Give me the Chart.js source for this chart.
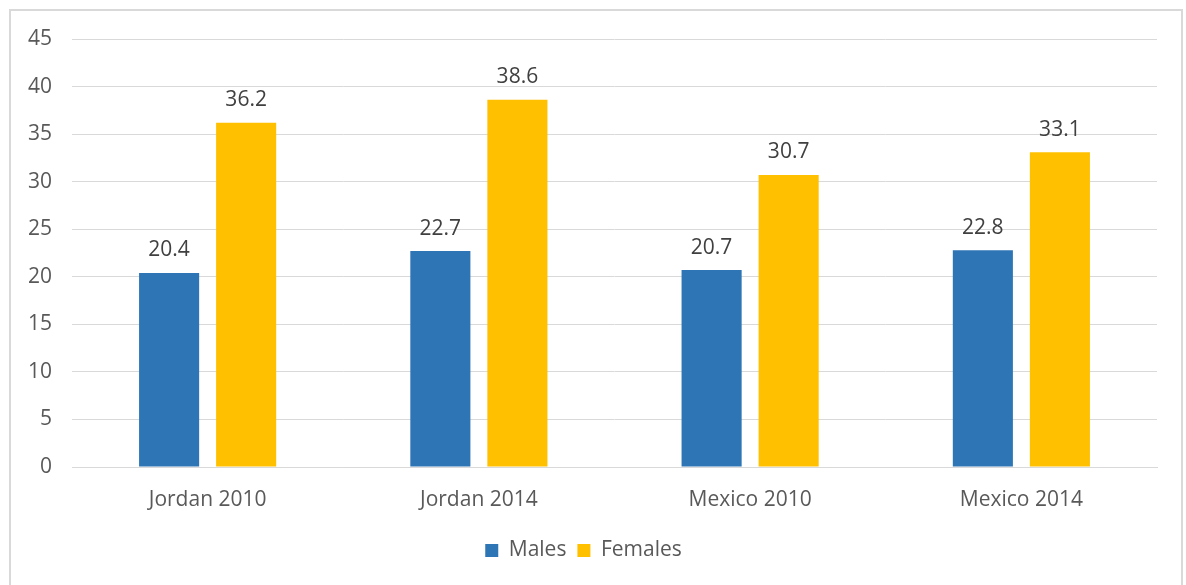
<!DOCTYPE html>
<html>
<head>
<meta charset="utf-8">
<script src="https://cdn.jsdelivr.net/npm/chart.js@4/dist/chart.umd.min.js"></script>
<style>
  body { margin: 0; background: #fff; }
  #wrap { position: relative; width: 1186px; height: 585px; }
</style>
</head>
<body>
<div id="wrap"><canvas id="barChart" width="1186" height="585"></canvas></div>
<script>
var categories = ['Jordan 2010', 'Jordan 2014', 'Mexico 2010', 'Mexico 2014'];
var males = [20.4, 22.7, 20.7, 22.8];
var females = [36.2, 38.6, 30.7, 33.1];
var yTicks = [0, 5, 10, 15, 20, 25, 30, 35, 40, 45];

var fontFamily = "'Open Sans', sans-serif";

// frame round the whole chart, like the office export
var framePlugin = {
    id: 'frame',
    beforeDraw: function (chart) {
        var ctx = chart.ctx;
        ctx.save();
        ctx.strokeStyle = '#d9d9d9';
        ctx.lineWidth = 2;
        ctx.strokeRect(10, 10, 1172, 590);
        ctx.restore();
    }
};

// value above each bar
var valueLabels = {
    id: 'valueLabels',
    afterDatasetsDraw: function (chart) {
        var ctx = chart.ctx;
        ctx.save();
        ctx.font = '21px ' + fontFamily;
        ctx.fillStyle = '#404040';
        ctx.textAlign = 'center';
        ctx.textBaseline = 'bottom';
        chart.data.datasets.forEach(function (ds, i) {
            chart.getDatasetMeta(i).data.forEach(function (bar, j) {
                ctx.fillText(ds.data[j].toFixed(1), bar.x, bar.y - 12);
            });
        });
        ctx.restore();
    }
};

var ctx = document.getElementById('barChart').getContext('2d');
new Chart(ctx, {
    type: 'bar',
    data: {
        labels: categories,
        datasets: [{
            label: 'Males',
            data: males,
            backgroundColor: '#2E75B6',
            categoryPercentage: 0.568,
            barPercentage: 0.78
        }, {
            label: 'Females',
            data: females,
            backgroundColor: '#FFC000',
            categoryPercentage: 0.568,
            barPercentage: 0.78
        }]
    },
    options: {
        responsive: false,
        animation: false,
        layout: { padding: { top: 39, left: 10, right: 29, bottom: 14 } },
        scales: {
            x: {
                grid: { display: false },
                border: { color: '#d9d9d9' },
                ticks: { color: '#595959', font: { family: fontFamily, size: 21 }, padding: 12 },
                afterFit: function (scale) { scale.height = 62; }
            },
            y: {
                min: 0,
                max: 45,
                afterBuildTicks: function (scale) {
                    scale.ticks = yTicks.map(function (v) { return { value: v }; });
                },
                grid: { color: '#d9d9d9', drawTicks: false },
                border: { display: false },
                ticks: { color: '#595959', font: { family: fontFamily, size: 21 }, padding: 20 },
                afterFit: function (scale) { scale.width = 62; }
            }
        },
        plugins: {
            legend: {
                position: 'bottom',
                labels: {
                    color: '#595959',
                    font: { family: fontFamily, size: 21 },
                    boxWidth: 13,
                    boxHeight: 13,
                    padding: 11
                }
            },
            tooltip: { enabled: false }
        }
    },
    plugins: [framePlugin, valueLabels]
});
</script>
</body>
</html>
